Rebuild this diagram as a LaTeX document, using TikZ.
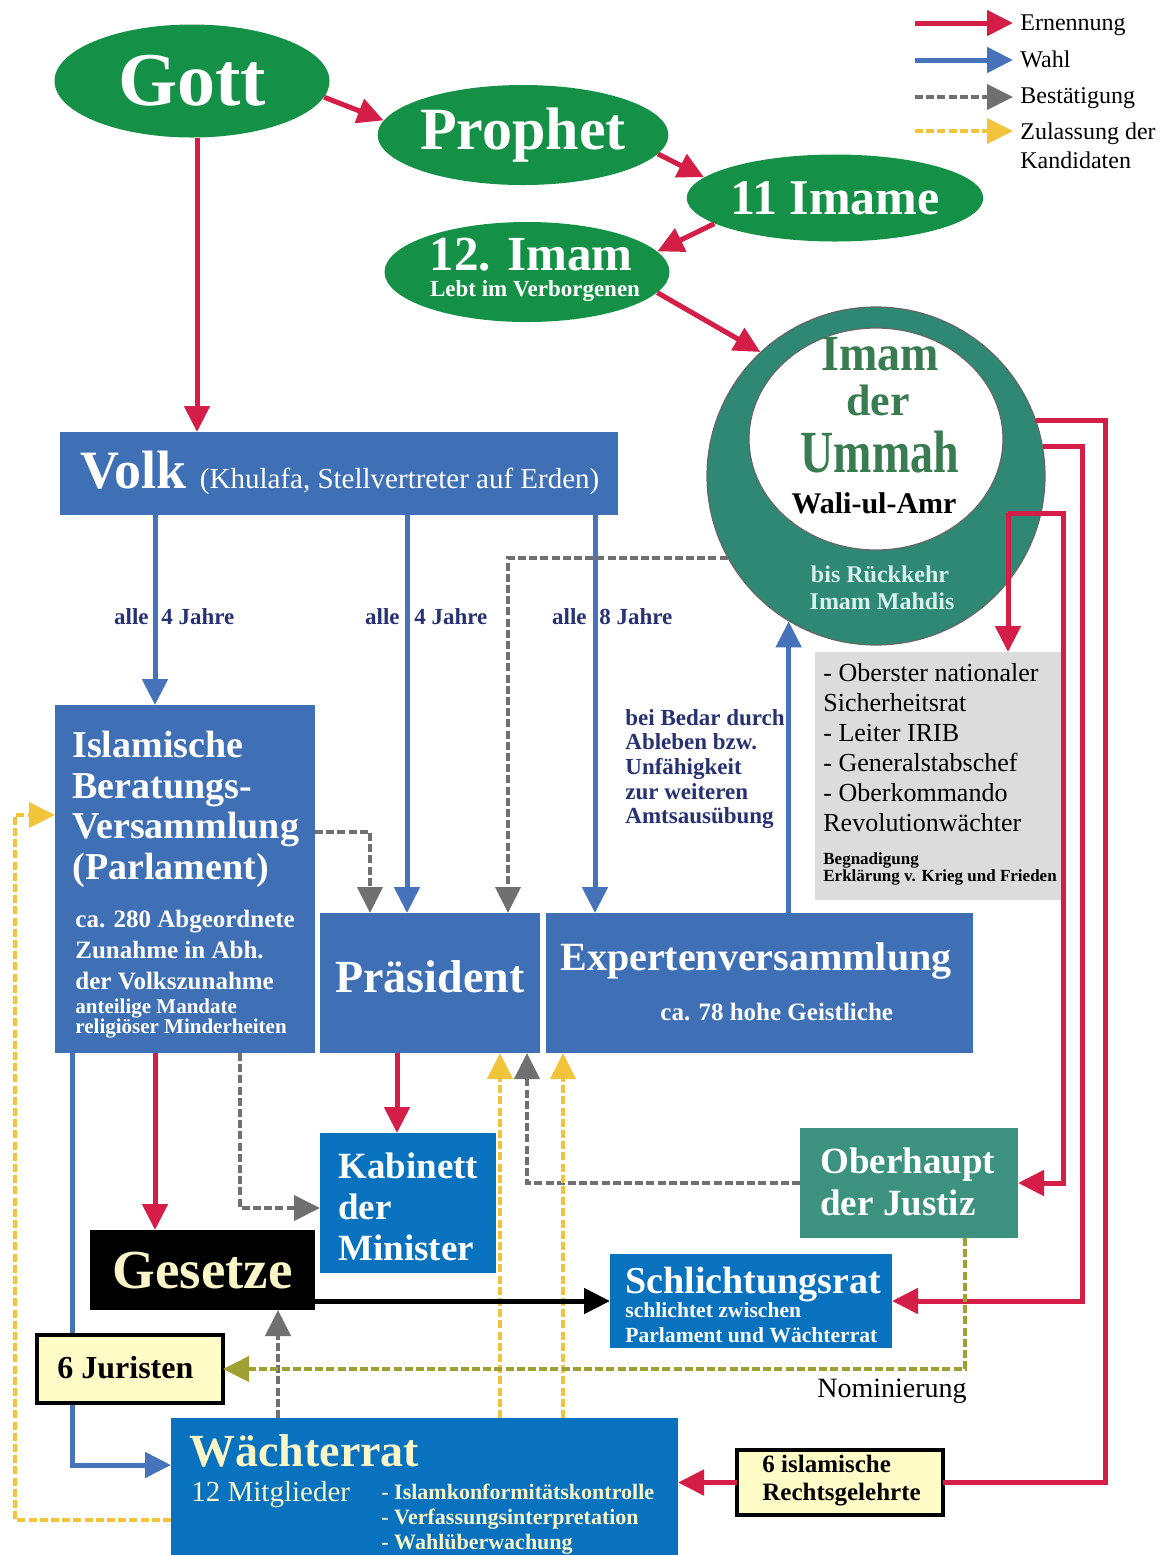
\documentclass[tikz,border=0pt]{standalone}
\usepackage{fontspec}
\setmainfont{Liberation Serif}
\usetikzlibrary{arrows.meta,shapes.geometric}
\definecolor{egreen}{RGB}{20,145,70}
\definecolor{vblue}{RGB}{63,111,180}
\definecolor{kblue}{RGB}{8,114,190}
\definecolor{teal1}{RGB}{46,136,116}
\definecolor{teal2}{RGB}{60,146,126}
\definecolor{ered}{RGB}{212,30,72}
\definecolor{wblue}{RGB}{70,115,185}
\definecolor{cgrey}{RGB}{112,112,112}
\definecolor{cyel}{RGB}{242,196,60}
\definecolor{colive}{RGB}{160,160,50}
\definecolor{dblue}{RGB}{40,50,115}
\definecolor{lgrey}{RGB}{220,220,220}
\definecolor{cream}{RGB}{255,252,200}
\definecolor{ctext}{RGB}{250,246,200}
\definecolor{ctxt2}{RGB}{215,240,235}
\definecolor{umgreen}{RGB}{58,124,82}
\newcommand\fs[2]{\fontsize{#1}{#2}\selectfont}
\pgfdeclarelayer{bg}
\pgfsetlayers{bg,main}
\begin{document}
\begin{tikzpicture}[x=0.5pt,y=-0.5pt,
  box/.style={rectangle, inner sep=0pt, outer sep=0pt, anchor=north west},
  ell/.style={ellipse, fill=egreen, inner sep=0pt, text=white},
  tx/.style={inner sep=0pt, anchor=base west},
  ml/.style={inner sep=0pt, anchor=north west, align=left},
  umtext/.style={inner sep=0pt, anchor=base, text=umgreen},
  arr/.style={line width=2.5pt, -{Triangle[length=13pt,width=12.5pt]}},
  rarr/.style={arr, draw=ered},
  rline/.style={line width=2.5pt, draw=ered},
  barr/.style={arr, draw=wblue},
  karr/.style={arr, draw=black},
  garr/.style={arr, draw=cgrey, line width=2pt, dash pattern=on 4pt off 1.6pt},
  yarr/.style={arr, draw=cyel, line width=2pt, dash pattern=on 4pt off 1.6pt},
  oarr/.style={arr, draw=colive, line width=2pt, dash pattern=on 4pt off 1.6pt}]
\begin{pgfonlayer}{bg}
\fill[white] (0,0) rectangle (1170,1555);
\end{pgfonlayer}
\useasboundingbox (0,0) rectangle (1170,1555);

% helper coordinates
\coordinate (X15) at (15,0);
\coordinate (X72) at (72,0);
\coordinate (X155) at (155,0);
\coordinate (X197) at (197,0);
\coordinate (X240) at (240,0);
\coordinate (X278) at (278,0);
\coordinate (X370) at (370,0);
\coordinate (X397) at (397,0);
\coordinate (X407) at (407,0);
\coordinate (X500) at (500,0);
\coordinate (X508) at (508,0);
\coordinate (X527) at (527,0);
\coordinate (X563) at (563,0);
\coordinate (X595) at (595,0);
\coordinate (X965) at (965,0);
\coordinate (X1063) at (1063,0);
\coordinate (X1082) at (1082,0);
\coordinate (X1105) at (1105,0);
\coordinate (Y815) at (0,815);
\coordinate (Y832) at (0,832);
\coordinate (Y1208) at (0,1208);
\coordinate (Y1465) at (0,1465);
\coordinate (Y1520) at (0,1520);
\coordinate (J1) at (1008,513);

% legend
\coordinate (La1) at (915,23);  \coordinate (Lb1) at (1013,23);
\coordinate (La2) at (915,60);  \coordinate (Lb2) at (1013,60);
\coordinate (La3) at (915,97);  \coordinate (Lb3) at (1013,97);
\coordinate (La4) at (915,131); \coordinate (Lb4) at (1013,131);
\node[tx, font=\fs{12}{13}] (L1) at (1020,30) {Ernennung};
\node[tx, font=\fs{12}{13}] (L2) at (1020,67) {Wahl};
\node[tx, font=\fs{12}{13}] (L3) at (1020,103) {Bestätigung};
\node[ml, font=\fs{12}{14.5}] (L4) at (1020,122) {Zulassung der\\Kandidaten};
\draw[rarr] (La1) -- (Lb1);
\draw[barr] (La2) -- (Lb2);
\draw[garr] (La3) -- (Lb3);
\draw[yarr] (La4) -- (Lb4);

% ellipses
\node[ell, minimum width=137.5pt, minimum height=56.5pt, font=\fs{38}{40}\bfseries] (Gott) at (192,81) {Gott};
\node[ell, minimum width=142.5pt, minimum height=50pt, font=\fs{30}{32}\bfseries] (Prophet) at (523,135) {Prophet};
\node[ell, minimum width=143pt, minimum height=43.5pt, font=\fs{25}{27}\bfseries] (Imame) at (835,198) {11 Imame};
\node[ell, minimum width=142.5pt, minimum height=50pt] (ImamZ) at (527,272) {};
\node[tx, anchor=base, text=white, font=\fs{24.5}{26}\bfseries] (ImamZt) at (531,270) {12. Imam};
\node[tx, anchor=base, text=white, font=\fs{11.5}{12}\bfseries] (ImamZs) at (535,296) {Lebt im Verborgenen};

% circle
\node[circle, fill=teal1, draw=black!60, line width=0.6pt, minimum size=169pt, inner sep=0pt] (Circ) at (876,476) {};
\node[ellipse, fill=white, draw=black!60, line width=0.6pt, minimum width=127pt, minimum height=111pt, inner sep=0pt] (Inner) at (876,439) {};
\node[umtext, font=\fs{23}{24}\bfseries] (Um1) at (880,370) {\scalebox{1}[1.1]{Imam}};
\node[umtext, font=\fs{22}{24}\bfseries] (Um2) at (878,415) {der};
\node[umtext, font=\fs{23}{24}\bfseries] (Um3) at (880,472) {\scalebox{1}[1.3]{Ummah}};
\node[tx, anchor=base, font=\fs{15}{16}\bfseries] (Wali) at (874,513) {Wali-ul-Amr};
\node[tx, anchor=base, text=ctxt2, font=\fs{12}{13}\bfseries] (Bis1) at (880,582) {bis Rückkehr};
\node[tx, anchor=base, text=ctxt2, font=\fs{12}{13}\bfseries] (Bis2) at (882,609) {Imam Mahdis};

% Volk
\node[box, fill=vblue, minimum width=279pt, minimum height=41.5pt] (Volk) at (60,432) {};
\node[tx, text=white] (Volkt) at (80,488) {{\fs{27}{28}\bfseries Volk }{\fs{14.5}{15}(Khulafa, Stellvertreter auf Erden)}};

% election labels
\node[tx, anchor=base east, text=dblue, font=\fs{11.5}{12}\bfseries] (A1) at (149,624) {alle};
\node[tx, text=dblue, font=\fs{11.5}{12}\bfseries] (A2) at (161,624) {4 Jahre};
\node[tx, anchor=base east, text=dblue, font=\fs{11.5}{12}\bfseries] (B1) at (400,624) {alle};
\node[tx, text=dblue, font=\fs{11.5}{12}\bfseries] (B2) at (414,624) {4 Jahre};
\node[tx, anchor=base east, text=dblue, font=\fs{11.5}{12}\bfseries] (C1) at (587,624) {alle};
\node[tx, text=dblue, font=\fs{11.5}{12}\bfseries] (C2) at (599,624) {8 Jahre};

% Parlament
\node[box, fill=vblue, minimum width=130pt, minimum height=174pt] (Isl) at (55,705) {};
\node[ml, text=white, font=\fs{19}{20.3}\bfseries] (Islt) at (72,731) {Islamische\\Beratungs-\\Versammlung\\(Parlament)};
\node[ml, text=white, font=\fs{12.5}{15.5}\bfseries] (Isls) at (75,910) {ca. 280 Abgeordnete\\Zunahme in Abh.\\der Volkszunahme};
\node[ml, text=white, font=\fs{10.5}{10}\bfseries] (Islm) at (75,999) {anteilige Mandate\\religiöser Minderheiten};

% Praesident, Experten
\node[box, fill=vblue, minimum width=110pt, minimum height=70pt] (Pres) at (320,913) {};
\node[tx, text=white, font=\fs{23}{24}\bfseries] (Prest) at (335,992) {Präsident};
\node[box, fill=vblue, minimum width=213.5pt, minimum height=70pt] (Exp) at (546,913) {};
\node[tx, text=white, font=\fs{20}{21}\bfseries] (Expt) at (560,970) {Expertenversammlung};
\node[tx, text=white, font=\fs{12.5}{13}\bfseries] (Exps) at (660,1020) {ca. 78 hohe Geistliche};
\node[ml, text=dblue, font=\fs{11.5}{12.3}\bfseries] (Bedar) at (625,709) {bei Bedar durch\\Ableben bzw.\\Unfähigkeit\\zur weiteren\\Amtsausübung};

% grey box
\node[box, fill=lgrey, minimum width=123.5pt, minimum height=124pt] (Grey) at (815,652) {};
\node[ml, font=\fs{13}{15}] (Greyt) at (823,663) {- Oberster nationaler\\Sicherheitsrat\\- Leiter IRIB\\- Generalstabschef\\- Oberkommando\\Revolutionwächter};
\node[ml, font=\fs{8.5}{8.6}\bfseries] (Greys) at (823,852) {Begnadigung\\Erklärung v. Krieg und Frieden};

% Kabinett, Oberhaupt
\node[box, fill=kblue, minimum width=88pt, minimum height=70pt] (Kab) at (320,1133) {};
\node[ml, text=white, font=\fs{18.5}{20.5}\bfseries] (Kabt) at (338,1152) {Kabinett\\der\\Minister};
\node[box, fill=teal2, minimum width=109pt, minimum height=55pt] (Ober) at (800,1128) {};
\node[ml, text=white, font=\fs{18.5}{21}\bfseries] (Obert) at (820,1147) {Oberhaupt\\der Justiz};

% Gesetze, Schlichtungsrat
\node[box, fill=black, minimum width=112.5pt, minimum height=40pt] (Ges) at (90,1230) {};
\node[tx, text=ctext, font=\fs{27.5}{28}\bfseries] (Gest) at (112,1288) {Gesetze};
\node[box, fill=kblue, minimum width=141pt, minimum height=47pt] (Schl) at (610,1254) {};
\node[tx, text=white, font=\fs{19}{20}\bfseries] (Schlt) at (625,1293) {Schlichtungsrat};
\node[ml, text=white, font=\fs{10.8}{12.5}\bfseries] (Schls) at (625,1302) {schlichtet zwischen\\Parlament und Wächterrat};

% Juristen
\node[box, fill=cream, draw=black, line width=2pt, minimum width=93pt, minimum height=34pt] (Jur) at (37,1335) {};
\node[tx, font=\fs{16}{17}\bfseries] (Jurt) at (57,1378) {6 Juristen};

% Waechterrat
\node[box, fill=kblue, minimum width=253.5pt, minimum height=69pt] (Wr) at (171,1418) {};
\node[tx, text=ctext, font=\fs{23}{24}\bfseries] (Wrt) at (189,1466) {Wächterrat};
\node[tx, text=ctext, font=\fs{14.5}{15}] (Wrm) at (191,1501) {12 Mitglieder};
\node[ml, text=ctext, font=\fs{11}{12.5}\bfseries] (Wrl) at (381,1484) {- Islamkonformitätskontrolle\\- Verfassungsinterpretation\\- Wahlüberwachung};

% Rechtsgelehrte
\node[box, fill=cream, draw=black, line width=2pt, minimum width=103pt, minimum height=32.5pt] (Ir) at (737,1450) {};
\node[ml, font=\fs{12.5}{14}\bfseries] (Irt) at (762,1455) {6 islamische\\Rechtsgelehrte};

\node[tx, font=\fs{14}{15}] (Nom) at (817,1397) {Nominierung};

% connectors
\draw[rarr] (Gott.-7) -- (Prophet.174);
\draw[rarr] (Prophet.-8) -- (Imame.171);
\draw[rarr] (Imame.192) -- (ImamZ.9);
\draw[rarr] (ImamZ.-9) -- (Circ.133);
\draw[rarr] (Gott.south -| X197) -- (Volk.north -| X197);
\draw[barr] (Volk.south -| X155) -- (Isl.north -| X155);
\draw[barr] (Volk.south -| X407) -- (Pres.north -| X407);
\draw[barr] (Volk.south -| X595) -- (Exp.north -| X595);
\draw[garr] (Circ.209) -- (Circ.209 -| X508) -- (Pres.north -| X508);
\draw[barr] (Exp.north -| Circ.239) -- (Circ.239);
\draw[rarr] (J1) -- (Grey.north -| J1);
\draw[rarr] (J1) -- (J1 -| X1063) -- (X1063 |- Ober.east) -- (Ober.east);
\draw[rarr] (Circ.10) -- (Circ.10 -| X1082) -- (X1082 |- Schl.east) -- (Schl.east);
\draw[rline] (Circ.19) -- (Circ.19 -| X1105) -- (X1105 |- Ir.east) -- (Ir.east);
\draw[rarr] (Ir.west) -- (Ir.west -| Wr.east);
\draw[garr] (Isl.east |- Y832) -- (Y832 -| X370) -- (Pres.north -| X370);
\draw[rarr] (Isl.south -| X155) -- (Ges.north -| X155);
\draw[rarr] (Pres.south -| X397) -- (Kab.north -| X397);
\draw[garr] (Isl.south -| X240) -- (X240 |- Y1208) -- (Kab.west |- Y1208);
\draw[garr] (Ober.west) -- (Ober.west -| X527) -- (Pres.south -| X527);
\draw[yarr] (Wr.north -| X500) -- (Pres.south -| X500);
\draw[yarr] (Wr.north -| X563) -- (Exp.south -| X563);
\draw[garr] (Wr.north -| X278) -- (Ges.south -| X278);
\draw[karr] (Ges.east |- Schl.west) -- (Schl.west);
\draw[oarr] (Ober.south -| X965) -- (X965 |- Jur.east) -- (Jur.east);
\draw[yarr] (Wr.west |- Y1520) -- (X15 |- Y1520) -- (X15 |- Y815) -- (Isl.west |- Y815);
\begin{pgfonlayer}{bg}
\draw[barr] (Isl.south -| X72) -- (X72 |- Y1465) -- (Wr.west |- Y1465);
\end{pgfonlayer}
\end{tikzpicture}
\end{document}
